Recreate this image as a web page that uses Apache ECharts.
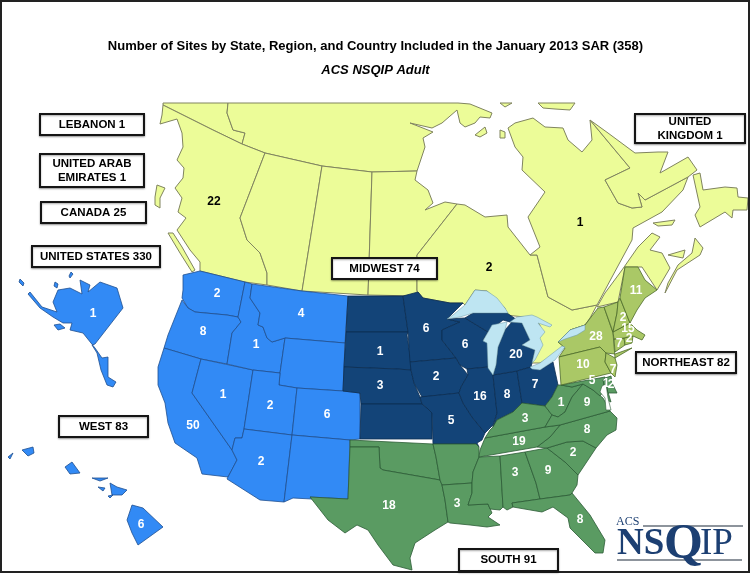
<!DOCTYPE html>
<html><head><meta charset="utf-8">
<style>html,body{margin:0;padding:0;background:#fff}#c{width:751px;height:575px}</style>
<script src="https://cdn.jsdelivr.net/npm/echarts@6/dist/echarts.min.js"></script>
</head><body><div id="c"></div>
<script>
// ---- data ----
const titleText = 'Number of Sites by State, Region, and Country Included in the January 2013 SAR (358)';
const subtitleText = 'ACS NSQIP Adult';
const westStates = ['WA','OR','CA','NV','ID','MT','WY','UT','CO','AZ','NM','AK','HI'];
const westCounts = [2,8,50,1,1,4,null,2,6,2,null,1,6];
const midwestStates = ['ND','SD','NE','KS','MN','IA','MO','WI','IL','IN','MI','OH'];
const midwestCounts = [null,1,3,null,6,2,5,6,16,8,20,7];
const southStates = ['OK','TX','AR','LA','MS','AL','GA','SC','NC','TN','KY','WV','VA','FL','MD','DC','DE'];
const southCounts = [null,18,null,3,null,3,9,2,8,19,3,1,9,8,5,1,2];
const northeastStates = ['NY','PA','NJ','CT','RI','MA','VT','NH','ME'];
const northeastCounts = [28,10,7,7,2,15,null,2,11];
const canadaRegions = ['Yukon','NWT','BC','Alberta','Saskatchewan','Manitoba','Ontario','Quebec','Labrador','Newfoundland','Maritimes'];
const canadaCounts = [null,null,22,null,null,null,2,1,null,null,null];
const lakes = ['Superior','Michigan','Huron','Erie','LakeOntario'];
const calloutTexts = ['LEBANON 1','UNITED ARAB\nEMIRATES 1','CANADA 25','UNITED STATES 330','WEST 83','MIDWEST 74','NORTHEAST 82','SOUTH 91','UNITED\nKINGDOM 1'];

// ---- layout and outlines (picture pixels) ----
const calloutBoxes = [[40,114,104,21],[40,154,104,33],[41,202,105,21],[32,246,128,21],[59,416,89,21],[332,258,105,21],[636,352,100,21],[459,549,99,22],[635,114,110,29]];
const labelAt = {AK:[93,314],HI:[141,525],WA:[217,294],OR:[203,332],CA:[193,426],NV:[223,395],ID:[256,345],MT:[301,314],UT:[270,406],CO:[327,415],AZ:[261,462],
 SD:[380,352],NE:[380,386],MN:[426,329],IA:[436,377],WI:[465,345],IL:[480,397],MO:[451,421],IN:[507,395],MI:[516,355],OH:[535,385],
 TX:[389,506],LA:[457,504],AL:[515,473],GA:[548,471],SC:[573,453],NC:[587,430],TN:[519,442],KY:[525,419],WV:[561,403],VA:[587,403],FL:[580,520],MD:[592,381],DC:[606,384],DE:[611,385],
 ME:[636,291],NH:[623,318],MA:[628,329],RI:[629,339],CT:[619,344],NY:[596,337],PA:[583,365],NJ:[613,370],BC:[214,202],Ontario:[489,268],Quebec:[580,223]};
const outlines = {
 Yukon:[[[163,103],[228,103],[227,113],[233,130],[245,133],[242,144],[213,130],[163,105]]],
 NWT:[[[228,103],[458,103],[470,104],[492,113],[490,118],[480,117],[475,123],[465,127],[460,123],[457,110],[442,123],[432,128],[410,123],[433,132],[423,138],[425,147],[417,171],[372,172],[322,166],[265,153],[242,144],[245,133],[233,130],[227,113]],
  [[485,127],[487,133],[480,137],[475,135]],[[500,130],[505,132],[505,138],[500,138]],[[500,103],[512,103],[505,107]],[[538,103],[575,103],[570,110],[555,109],[543,108]]],
 BC:[[[163,105],[213,130],[242,144],[265,153],[240,218],[247,240],[260,253],[267,273],[267,285],[245,282],[200,271],[200,262],[190,250],[177,230],[186,218],[178,212],[182,198],[175,188],[183,178],[184,168],[177,160],[183,147],[182,133],[177,119],[160,124],[162,115]],
  [[157,185],[165,188],[160,198],[160,208],[155,205],[155,197]],[[168,233],[173,233],[182,247],[195,270],[192,272],[180,253]]],
 Alberta:[[[265,153],[322,166],[302,291],[267,285],[267,273],[260,253],[247,240],[240,218]]],
 Saskatchewan:[[[322,166],[372,172],[368,295],[302,291]]],
 Manitoba:[[[372,172],[417,171],[415,180],[428,190],[433,203],[425,210],[445,202],[457,204],[417,255],[417,290],[418,296],[368,295]]],
 Ontario:[[[457,204],[465,205],[485,217],[507,215],[508,227],[530,255],[537,255],[548,297],[572,310],[597,305],[590,318],[585,325],[570,330],[558,342],[565,347],[550,358],[540,363],[532,363],[535,350],[538,340],[540,325],[525,317],[505,315],[505,308],[487,291],[475,290],[465,305],[463,303],[450,303],[423,298],[418,292],[418,296],[417,290],[417,255]]],
 Quebec:[[[545,192],[528,217],[540,247],[530,255],[537,255],[548,297],[572,310],[597,305],[612,277],[632,240],[633,228],[662,212],[683,190],[688,177],[645,200],[638,193],[642,207],[632,208],[618,203],[605,180],[630,168],[590,120],[592,140],[582,152],[568,140],[563,128],[545,127],[533,118],[515,123],[508,128],[515,147],[523,157],[522,170]]],
 Labrador:[[[590,120],[608,133],[635,153],[658,152],[668,152],[660,173],[688,157],[697,170],[688,177],[645,200],[638,193],[642,207],[632,208],[618,203],[605,180],[630,168]]],
 Newfoundland:[[[693,175],[700,173],[703,190],[725,187],[737,188],[738,197],[748,198],[747,210],[733,210],[732,218],[725,212],[700,227],[695,215],[700,207]],[[653,223],[675,220],[672,225],[658,226]]],
 Maritimes:[[[597,307],[605,293],[622,270],[638,247],[652,233],[660,237],[650,250],[662,253],[670,268],[657,290],[642,267],[625,267],[618,302]],
  [[665,293],[677,270],[700,255],[703,248],[695,238],[692,253],[678,265],[668,283]],[[668,255],[685,250],[683,258]]],
 WA:[[[183,275],[200,271],[245,282],[238,317],[227,315],[195,312],[188,308],[182,298],[183,290]]],
 OR:[[[182,300],[188,308],[195,312],[227,315],[238,317],[241,322],[232,333],[227,364],[201,359],[164,348],[168,335]]],
 CA:[[[164,348],[201,359],[192,393],[232,450],[237,460],[228,477],[202,474],[197,458],[175,443],[168,423],[165,403],[158,385],[158,367]]],
 NV:[[[201,359],[253,370],[244,429],[242,438],[235,438],[232,450],[192,393]]],
 ID:[[[245,282],[252,284],[250,298],[260,313],[258,325],[263,327],[267,338],[272,342],[285,338],[280,373],[253,370],[227,364],[232,333],[241,322],[238,317]]],
 MT:[[[252,284],[302,291],[348,296],[345,343],[285,338],[272,342],[267,338],[263,327],[258,325],[260,313],[250,298]]],
 WY:[[[285,338],[345,343],[343,391],[297,388],[279,385],[280,373]]],
 UT:[[[253,370],[280,373],[279,385],[297,388],[292,435],[244,429]]],
 CO:[[[297,388],[343,391],[360,393],[360,439],[350,440],[292,435]]],
 AZ:[[[244,429],[292,435],[284,502],[260,500],[227,479],[228,477],[237,460],[232,450],[235,438],[242,438]]],
 NM:[[[292,435],[350,440],[348,499],[310,497],[312,499],[293,498],[284,502]]],
 AK:[[[123,308],[117,288],[100,282],[88,292],[90,285],[80,280],[82,294],[70,288],[58,290],[53,302],[57,312],[42,307],[30,292],[28,294],[40,308],[53,317],[63,323],[72,323],[70,330],[83,333],[95,348],[102,358],[108,357],[108,377],[116,382],[113,387],[107,385],[101,370],[97,353],[92,345],[95,344]],
  [[20,279],[24,283],[23,286],[19,282]],[[55,282],[58,284],[57,288],[54,286]],[[71,272],[73,274],[70,278],[69,276]],[[54,325],[60,324],[65,328],[58,330]]],
 HI:[[[132,505],[143,508],[163,527],[138,545],[132,533],[127,520]],[[110,483],[117,487],[127,490],[122,495],[112,495]],[[65,467],[72,462],[80,473],[70,474]],[[22,450],[33,447],[34,453],[28,456]],[[8,457],[13,453],[10,459]],[[92,478],[108,478],[100,481]],[[98,487],[105,488],[103,491]],[[108,496],[113,495],[110,498]]],
 ND:[[[348,296],[403,296],[408,332],[346,332]]],
 SD:[[[346,332],[408,332],[407,335],[411,362],[411,370],[397,369],[344,367]]],
 NE:[[[344,367],[397,369],[411,370],[414,383],[420,397],[422,404],[361,404],[360,393],[343,391]]],
 KS:[[[361,404],[422,404],[427,408],[432,413],[432,439],[360,439]]],
 MN:[[[403,296],[418,292],[423,298],[450,303],[463,303],[447,319],[460,322],[442,330],[442,340],[456,358],[410,362],[408,332]]],
 IA:[[[410,362],[456,358],[460,365],[468,375],[461,387],[459,393],[422,397],[414,383],[411,370]]],
 MO:[[[420,397],[459,393],[463,403],[472,417],[485,433],[482,440],[477,443],[479,447],[476,444],[433,444],[432,413],[427,408],[422,404]]],
 WI:[[[447,319],[465,318],[488,332],[483,340],[488,343],[488,367],[467,369],[460,365],[456,358],[442,340],[442,330],[460,322]]],
 IL:[[[488,367],[467,369],[468,375],[461,387],[459,393],[463,403],[472,417],[485,433],[493,425],[497,413],[493,375]]],
 IN:[[[493,375],[517,371],[522,403],[513,412],[497,420],[493,427],[497,413]]],
 MI:[[[465,318],[473,313],[507,313],[520,322],[510,322],[503,320],[488,332]],[[505,330],[512,322],[522,323],[530,340],[522,345],[535,350],[531,367],[517,371],[493,375],[496,365],[498,347]]],
 OH:[[[517,371],[531,367],[540,370],[553,362],[558,385],[552,397],[545,406],[522,403]]],
 OK:[[[350,440],[433,444],[436,457],[440,480],[423,477],[383,470],[380,468],[379,447],[350,447]]],
 TX:[[[350,447],[379,447],[380,468],[383,470],[423,477],[440,480],[442,485],[445,500],[448,522],[435,530],[415,543],[410,558],[412,570],[393,565],[378,545],[368,530],[357,525],[345,533],[328,520],[310,497],[348,499]]],
 AR:[[[433,444],[476,444],[479,447],[479,457],[473,472],[472,483],[442,485],[440,480],[436,457]]],
 LA:[[[442,485],[472,483],[472,493],[468,505],[488,504],[492,513],[488,517],[500,525],[487,527],[470,525],[450,523],[448,522],[445,500]]],
 MS:[[[479,457],[500,456],[503,507],[500,510],[490,509],[488,504],[468,505],[472,493],[472,483],[473,472]]],
 AL:[[[500,456],[525,452],[536,483],[540,499],[512,503],[513,507],[507,510],[503,507]]],
 GA:[[[525,452],[547,448],[565,462],[578,475],[577,485],[572,493],[570,495],[540,499],[536,483]]],
 SC:[[[547,448],[567,442],[583,441],[596,448],[578,475],[565,462]]],
 NC:[[[560,425],[610,411],[617,418],[616,430],[607,435],[596,448],[583,441],[567,442],[547,448],[537,447],[550,437]]],
 TN:[[[485,438],[545,427],[560,425],[550,437],[537,447],[479,457],[480,450]]],
 KY:[[[485,438],[490,430],[493,427],[497,420],[513,412],[522,403],[545,406],[552,415],[545,427]]],
 WV:[[[545,406],[552,397],[558,385],[561,385],[572,387],[583,384],[572,397],[565,412],[558,417],[552,415]]],
 VA:[[[545,427],[552,415],[558,417],[565,412],[572,397],[583,384],[593,390],[603,398],[610,411],[560,425]]],
 FL:[[[540,499],[570,495],[572,493],[590,515],[605,540],[603,553],[595,553],[580,538],[570,528],[568,518],[553,507],[542,512],[513,507],[512,503]]],
 MD:[[[561,385],[605,377],[603,392],[600,396],[593,390],[583,384],[572,387]]],
 DC:[[[603,380],[606,378],[608,392],[611,402],[607,400]]],
 DE:[[[605,378],[611,376],[612,383],[617,393],[608,393]]],
 NY:[[[559,357],[565,348],[558,342],[570,330],[585,325],[598,308],[604,307],[613,333],[615,358],[632,348],[615,354],[606,353],[600,347]]],
 PA:[[[559,357],[600,347],[606,353],[605,362],[611,373],[561,385]]],
 NJ:[[[606,353],[615,358],[617,365],[615,377],[611,373],[605,362]]],
 CT:[[[614,339],[624,338],[625,345],[615,352]]],
 RI:[[[624,338],[633,336],[632,343],[625,345]]],
 MA:[[[613,332],[630,323],[637,330],[645,335],[642,340],[633,336],[624,338],[614,339]]],
 VT:[[[604,307],[618,302],[617,313],[613,332]]],
 NH:[[[618,302],[620,298],[630,323],[613,332],[617,313]]],
 ME:[[[625,267],[638,267],[645,280],[657,290],[645,298],[637,310],[630,323],[620,298]]],
 Superior:[[[447,319],[453,315],[465,305],[475,290],[487,291],[497,298],[505,308],[508,313],[493,313],[473,313],[460,317]]],
 Michigan:[[[483,341],[492,325],[507,322],[505,330],[498,347],[496,365],[493,375],[488,368],[487,343]]],
 Huron:[[[510,322],[517,317],[532,315],[537,317],[552,325],[550,327],[538,323],[545,332],[540,338],[543,345],[535,360],[532,363],[535,350],[522,345],[530,340],[522,323]]],
 Erie:[[[530,367],[540,363],[562,346],[565,347],[555,360],[540,370],[532,369]]],
 LakeOntario:[[[558,342],[570,330],[585,325],[585,330],[577,335],[565,339]]],
 Bay:[[[602,386],[606,384],[608,398],[611,410],[606,410],[605,398],[600,392]]],
 Frame:[[[0,0],[751,0],[751,575],[0,575]]]
};

// ---- build map ----
const styles = {
 west:{areaColor:'#328AF5',borderColor:'#1f4f8f',borderWidth:0.8},
 midwest:{areaColor:'#134478',borderColor:'#0b2d52',borderWidth:0.8},
 south:{areaColor:'#5A9B62',borderColor:'#2c5c36',borderWidth:0.8},
 northeast:{areaColor:'#AAC866',borderColor:'#4c6b2a',borderWidth:0.8},
 canada:{areaColor:'#ECFC98',borderColor:'#80845f',borderWidth:1},
 lake:{areaColor:'#BEE5F2',borderColor:'#6b97a5',borderWidth:0.5},
 bay:{areaColor:'#ffffff',borderColor:'#2c5c36',borderWidth:0.6},
 frame:{areaColor:'transparent',borderWidth:0}
};
const groups = [
 [['Frame'],[null],'frame','#000'],
 [canadaRegions,canadaCounts,'canada','#000'],
 [westStates,westCounts,'west','#fff'],
 [midwestStates,midwestCounts,'midwest','#fff'],
 [southStates,southCounts,'south','#fff'],
 [northeastStates,northeastCounts,'northeast','#fff'],
 [lakes,lakes.map(()=>null),'lake','#000'],
 [['Bay'],[null],'bay','#000']
];
const features = [], seriesData = [];
groups.forEach(([names,counts,styleKey,labelColor])=>{
 names.forEach((name,i)=>{
  const polys = outlines[name].map(r=>[r.concat([r[0]]).map(p=>[p[0],-p[1]])]);
  const at = labelAt[name];
  const props = {name};
  if(at) props.cp = [at[0],-at[1]];
  features.push({type:'Feature',properties:props,geometry:{type:'MultiPolygon',coordinates:polys}});
  seriesData.push({name,value:counts[i],itemStyle:styles[styleKey],label:{color:labelColor}});
 });
});
echarts.registerMap('sites',{type:'FeatureCollection',features});

const LOGO='#1c3f72';
const graphics = [{type:'rect',z:90,shape:{x:1,y:1,width:748,height:571},style:{fill:'none',stroke:'#222',lineWidth:2}}];
calloutTexts.forEach((t,i)=>{
 const b=calloutBoxes[i];
 graphics.push({type:'rect',z:100,shape:{x:b[0],y:b[1],width:b[2],height:b[3]},style:{fill:'#fff',stroke:'#151515',lineWidth:2,shadowBlur:2,shadowColor:'rgba(0,0,0,0.35)',shadowOffsetY:1}});
 graphics.push({type:'text',z:101,x:b[0]+b[2]/2,y:b[1]+b[3]/2,style:{text:t,fill:'#000',font:'bold 11.5px "Liberation Sans"',align:'center',verticalAlign:'middle',lineHeight:14}});
});
const serif='"Liberation Serif"';
graphics.push(
 {type:'rect',z:50,shape:{x:643,y:525,width:100,height:2},style:{fill:'#8d949c'}},
 {type:'rect',z:50,shape:{x:617,y:559,width:125,height:2},style:{fill:'#8d949c'}},
 {type:'text',z:60,x:616,y:522,style:{text:'ACS',fill:LOGO,font:'12px '+serif,align:'left',verticalAlign:'middle'}},
 {type:'text',z:60,x:617,y:544,style:{text:'NS',fill:LOGO,font:'bold 37px '+serif,align:'left',verticalAlign:'middle'}},
 {type:'text',z:60,x:664,y:545,style:{text:'Q',fill:LOGO,font:'bold 50px '+serif,align:'left',verticalAlign:'middle'}},
 {type:'text',z:60,x:700,y:544,style:{text:'IP',fill:LOGO,font:'37px '+serif,align:'left',verticalAlign:'middle'}}
);

const chart = echarts.init(document.getElementById('c'),null,{renderer:'canvas'});
chart.setOption({
 backgroundColor:'#fff',
 animation:false,
 title:[
  {text:titleText,left:'center',top:35,textStyle:{fontFamily:'Liberation Sans',fontSize:13,fontWeight:'bold',color:'#000'}},
  {text:subtitleText,left:'center',top:59,textStyle:{fontFamily:'Liberation Sans',fontSize:13,fontWeight:'bold',fontStyle:'italic',color:'#000'}}
 ],
 series:[{type:'map',map:'sites',silent:true,roam:false,aspectScale:1,left:0,top:0,width:751,height:575,
  selectedMode:false,emphasis:{disabled:true},
  itemStyle:{areaColor:'transparent',borderWidth:0},
  label:{show:true,fontFamily:'Liberation Sans',fontWeight:'bold',fontSize:12,
   formatter:p=>(p.value>0?String(p.value):'')},
  data:seriesData}],
 graphic:{elements:graphics}
});
</script></body></html>
